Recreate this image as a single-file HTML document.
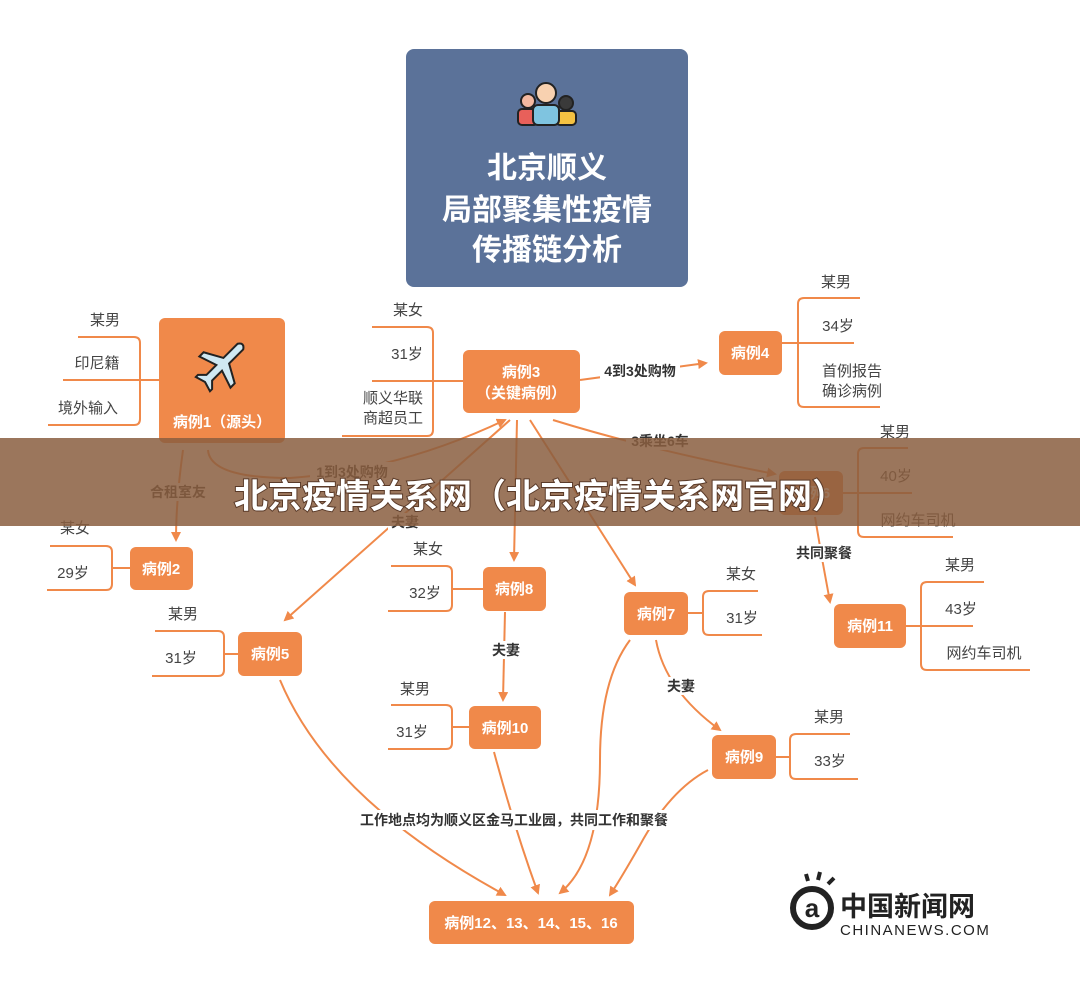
<!DOCTYPE html>
<html><head><meta charset="utf-8"><style>
body{margin:0;background:#fff;}
svg{display:block;font-family:"Liberation Sans","Noto Sans CJK SC",sans-serif;}
.lf{font-size:15px;fill:#444;text-anchor:middle;}
.nb{font-size:15px;fill:#fff;font-weight:bold;text-anchor:middle;}
.lb{font-size:14px;fill:#333;font-weight:bold;text-anchor:middle;}
.o{stroke:#f0894a;stroke-width:2;fill:none;}
</style></head><body>
<svg width="1080" height="993" viewBox="0 0 1080 993">
<defs><marker id="a" markerWidth="10" markerHeight="10" refX="8" refY="5" orient="auto" markerUnits="userSpaceOnUse"><path d="M0,0 L10,5 L0,10 Z" fill="#f0894a"/></marker></defs>
<!-- title -->
<rect x="406" y="49" width="282" height="238" rx="8" fill="#5b7299"/>
<g transform="translate(546,103)">
<circle cx="-18" cy="-2" r="7" fill="#f4b9a0" stroke="#222" stroke-width="2"/>
<rect x="-28" y="6" width="20" height="16" rx="4" fill="#e8605a" stroke="#222" stroke-width="2"/>
<circle cx="20" cy="0" r="7" fill="#3a3a3a" stroke="#222" stroke-width="2"/>
<rect x="10" y="8" width="20" height="14" rx="4" fill="#f5c242" stroke="#222" stroke-width="2"/>
<circle cx="0" cy="-10" r="10" fill="#f8d1b0" stroke="#222" stroke-width="2"/>
<rect x="-13" y="2" width="26" height="20" rx="5" fill="#7fc4e0" stroke="#222" stroke-width="2"/>
</g>
<g font-size="30" font-weight="bold" fill="#fff" text-anchor="middle">
<text x="547" y="178">北京顺义</text>
<text x="547" y="220">局部聚集性疫情</text>
<text x="547" y="260">传播链分析</text></g>

<!-- leaf brackets -->
<g class="o">
<path d="M78,337 H134 Q140,337 140,343 V419 Q140,425 134,425 H48 M63,380 H159"/>
<path d="M372,327 H427 Q433,327 433,333 V430 Q433,436 427,436 H342 M372,381 H463"/>
<path d="M860,298 H804 Q798,298 798,304 V401 Q798,407 804,407 H880 M854,343 H782"/>
<path d="M908,448 H864 Q858,448 858,454 V531 Q858,537 864,537 H953 M912,493 H843"/>
<path d="M984,582 H927 Q921,582 921,588 V664 Q921,670 927,670 H1030 M973,626 H906"/>
<path d="M50,546 H106 Q112,546 112,552 V584 Q112,590 106,590 H47 M112,568 H130"/>
<path d="M155,631 H218 Q224,631 224,637 V670 Q224,676 218,676 H152 M224,654 H238"/>
<path d="M391,566 H446 Q452,566 452,572 V605 Q452,611 446,611 H388 M452,589 H483"/>
<path d="M391,705 H446 Q452,705 452,711 V743 Q452,749 446,749 H388 M452,727 H469"/>
<path d="M758,591 H709 Q703,591 703,597 V629 Q703,635 709,635 H762 M703,613 H688"/>
<path d="M850,734 H796 Q790,734 790,740 V773 Q790,779 796,779 H858 M790,757 H776"/>
</g>
<!-- leaf texts -->
<g class="lf">
<text x="105" y="325">某男</text><text x="97" y="368">印尼籍</text><text x="88" y="413">境外输入</text>
<text x="408" y="315">某女</text><text x="407" y="359">31岁</text><text x="393" y="403">顺义华联</text><text x="393" y="423">商超员工</text>
<text x="836" y="287">某男</text><text x="838" y="331">34岁</text><text x="852" y="376">首例报告</text><text x="852" y="396">确诊病例</text>
<text x="895" y="437">某男</text><text x="896" y="481">40岁</text><text x="918" y="525">网约车司机</text>
<text x="960" y="570">某男</text><text x="961" y="614">43岁</text><text x="984" y="658">网约车司机</text>
<text x="75" y="533">某女</text><text x="73" y="578">29岁</text>
<text x="183" y="619">某男</text><text x="181" y="663">31岁</text>
<text x="428" y="554">某女</text><text x="425" y="598">32岁</text>
<text x="415" y="694">某男</text><text x="412" y="737">31岁</text>
<text x="741" y="579">某女</text><text x="742" y="623">31岁</text>
<text x="829" y="722">某男</text><text x="830" y="766">33岁</text>
</g>

<!-- connectors -->
<g class="o">
<path d="M208,450 Q210,478 290,478 Q400,470 505,420" marker-end="url(#a)"/>
<path d="M183,450 Q176,500 176,540" marker-end="url(#a)"/>
<path d="M580,380 L706,363" marker-end="url(#a)"/>
<path d="M553,420 Q650,450 775,474" marker-end="url(#a)"/>
<path d="M510,420 L285,620" marker-end="url(#a)"/>
<path d="M517,420 L514,560" marker-end="url(#a)"/>
<path d="M530,420 L635,585" marker-end="url(#a)"/>
<path d="M815,517 Q822,560 830,602" marker-end="url(#a)"/>
<path d="M505,612 L503,700" marker-end="url(#a)"/>
<path d="M656,640 Q665,690 720,730" marker-end="url(#a)"/>
<path d="M280,680 Q330,800 505,895" marker-end="url(#a)"/>
<path d="M494,752 Q515,830 538,893" marker-end="url(#a)"/>
<path d="M630,640 Q600,680 600,760 Q600,860 560,893" marker-end="url(#a)"/>
<path d="M708,770 Q670,790 640,845 Q620,880 610,895" marker-end="url(#a)"/>
</g>
<!-- nodes -->
<g fill="#f0894a">
<rect x="159" y="318" width="126" height="125" rx="6"/>
<rect x="463" y="350" width="117" height="63" rx="6"/>
<rect x="719" y="331" width="63" height="44" rx="6"/>
<rect x="779" y="471" width="64" height="44" rx="6"/>
<rect x="834" y="604" width="72" height="44" rx="6"/>
<rect x="130" y="547" width="63" height="43" rx="6"/>
<rect x="238" y="632" width="64" height="44" rx="6"/>
<rect x="483" y="567" width="63" height="44" rx="6"/>
<rect x="469" y="706" width="72" height="43" rx="6"/>
<rect x="624" y="592" width="64" height="43" rx="6"/>
<rect x="712" y="735" width="64" height="44" rx="6"/>
<rect x="429" y="901" width="205" height="43" rx="6"/>
</g>
<g transform="translate(222,365) rotate(45)">
<path d="M-4,-26 Q0,-32 4,-26 V-6 L22,4 V10 L4,4 V18 L10,24 V27 L0,24 L-10,27 V24 L-4,18 V4 L-22,10 V4 L-4,-6 Z" fill="#cfe8f2" stroke="#222" stroke-width="2"/>
</g>
<g class="nb">
<text x="222" y="427">病例1（源头）</text>
<text x="521" y="377">病例3</text><text x="521" y="398">（关键病例）</text>
<text x="750" y="358">病例4</text><text x="811" y="498">病例6</text>
<text x="870" y="631">病例11</text><text x="161" y="574">病例2</text>
<text x="270" y="659">病例5</text><text x="514" y="594">病例8</text>
<text x="505" y="733">病例10</text><text x="656" y="619">病例7</text>
<text x="744" y="762">病例9</text><text x="531" y="928">病例12、13、14、15、16</text>
</g>
<!-- labels -->
<g class="lb">
<rect x="310" y="462" width="84" height="18" fill="#fff"/><text x="352" y="477">1到3处购物</text>
<rect x="146" y="483" width="64" height="18" fill="#fff"/><text x="178" y="497">合租室友</text>
<rect x="600" y="361" width="80" height="18" fill="#fff"/><text x="640" y="376">4到3处购物</text>
<rect x="626" y="432" width="68" height="18" fill="#fff"/><text x="660" y="446">3乘坐6车</text>
<rect x="388" y="513" width="34" height="18" fill="#fff"/><text x="405" y="527">夫妻</text>
<rect x="792" y="544" width="64" height="18" fill="#fff"/><text x="824" y="558">共同聚餐</text>
<rect x="489" y="641" width="34" height="18" fill="#fff"/><text x="506" y="655">夫妻</text>
<rect x="664" y="677" width="34" height="18" fill="#fff"/><text x="681" y="691">夫妻</text>
<rect x="354" y="810" width="320" height="20" fill="#fff"/><text x="514" y="825">工作地点均为顺义区金马工业园，共同工作和聚餐</text>
</g>
<!-- banner -->
<rect x="0" y="438" width="1080" height="88" fill="#8a5e3f" opacity="0.85"/>
<text x="540" y="508" font-size="34" font-weight="bold" fill="#fff" text-anchor="middle" style="paint-order:stroke" stroke="#5a3a28" stroke-width="2">北京疫情关系网（北京疫情关系网官网）</text>
<!-- logo -->
<g transform="translate(812,908)">
<circle cx="0" cy="0" r="19" fill="none" stroke="#222" stroke-width="6"/>
<text x="0" y="9" font-size="26" font-weight="bold" fill="#222" text-anchor="middle">a</text>
<path d="M6,-28 l2,-8 M16,-24 l6,-6 M-4,-27 l-2,-7" stroke="#222" stroke-width="4"/>
</g>
<text x="840" y="916" font-size="27" font-weight="bold" fill="#222">中国新闻网</text>
<text x="840" y="935" font-size="15" fill="#222" letter-spacing="1.5">CHINANEWS.COM</text>
</svg>
</body></html>
